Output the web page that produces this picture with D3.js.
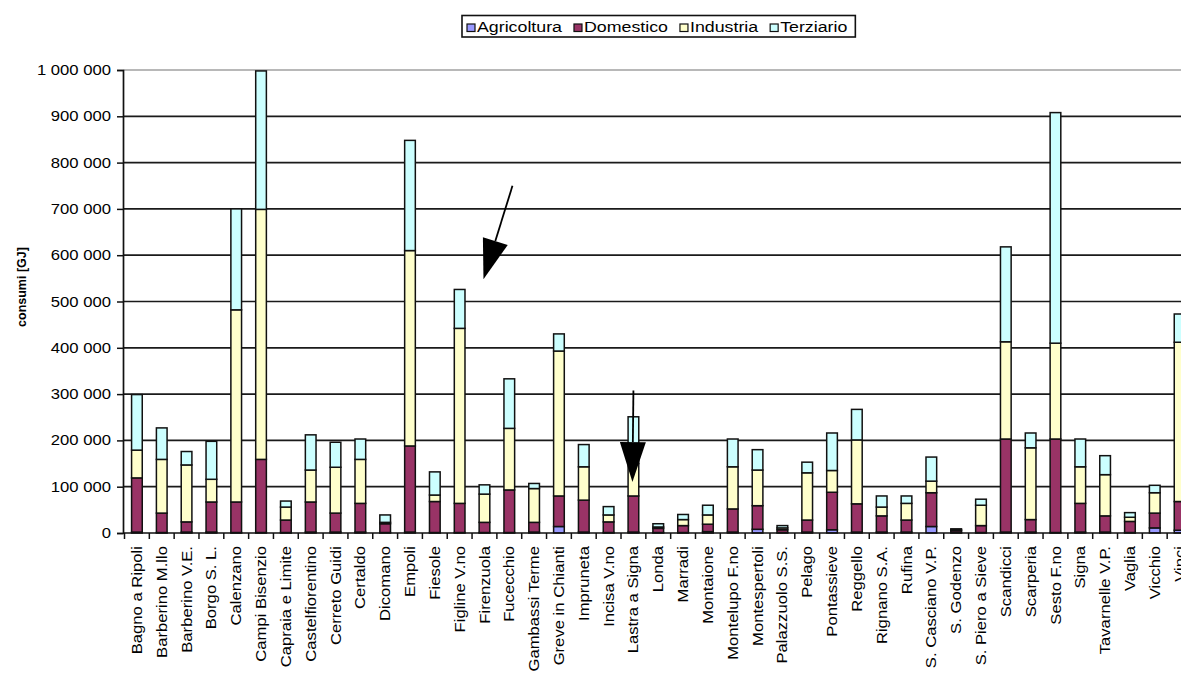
<!DOCTYPE html>
<html>
<head>
<meta charset="utf-8">
<script src="https://cdn.jsdelivr.net/npm/d3@7/dist/d3.min.js"></script>
<style>
  html, body { margin: 0; padding: 0; background: #fff; }
  svg { display: block; font-family: "Liberation Sans", Arial, sans-serif; }
</style>
</head>
<body>
<svg id="chart" width="1181" height="675"></svg>
<script>
// Energy consumption by municipality and sector [GJ]
const categories = [
  "Bagno a Ripoli", "Barberino M.llo", "Barberino V.E.", "Borgo S. L.", "Calenzano",
  "Campi Bisenzio", "Capraia e Limite", "Castelfiorentino", "Cerreto Guidi", "Certaldo",
  "Dicomano", "Empoli", "Fiesole", "Figline V.no", "Firenzuola", "Fucecchio",
  "Gambassi Terme", "Greve in Chianti", "Impruneta", "Incisa V.no", "Lastra a Signa",
  "Londa", "Marradi", "Montaione", "Montelupo F.no", "Montespertoli", "Palazzuolo S.S.",
  "Pelago", "Pontassieve", "Reggello", "Rignano S.A.", "Rufina", "S. Casciano V.P.",
  "S. Godenzo", "S. Piero a Sieve", "Scandicci", "Scarperia", "Sesto F.no", "Signa",
  "Tavarnelle V.P.", "Vaglia", "Vicchio", "Vinci"
];

const agricoltura = [2000, 1000, 2000, 2000, 1000, 1000, 1000, 2000, 2000, 2000,
  1000, 2000, 1000, 1000, 1000, 1000, 2000, 14000, 2000, 1000, 2000,
  1000, 1000, 3000, 2000, 8000, 1000, 2000, 7000, 2000, 2000, 2000, 14000,
  1000, 1000, 2000, 2000, 1000, 2000, 2000, 1000, 11000, 6000];

const domestico = [117000, 42000, 22000, 65000, 66000, 158000, 27000, 65000, 41000, 62000,
  19000, 186000, 67000, 63000, 22000, 92000, 21000, 66000, 69000, 23000, 78000,
  9000, 15000, 16000, 50000, 51000, 6000, 26000, 81000, 61000, 35000, 26000, 73000,
  4000, 15000, 201000, 27000, 202000, 62000, 35000, 24000, 32000, 62000];

const industria = [60000, 116000, 123000, 49000, 415000, 540000, 28000, 69000, 99000, 95000,
  3000, 422000, 14000, 378000, 61000, 133000, 73000, 313000, 72000, 15000, 70000,
  3000, 13000, 20000, 91000, 77000, 4000, 102000, 47000, 138000, 19000, 36000, 25000,
  2000, 44000, 210000, 155000, 207000, 79000, 89000, 9000, 44000, 344000];

const terziario = [120000, 68000, 29000, 82000, 218000, 299000, 13000, 76000, 54000, 44000,
  16000, 238000, 50000, 84000, 20000, 107000, 11000, 37000, 48000, 18000, 101000,
  7000, 11000, 21000, 60000, 44000, 5000, 23000, 81000, 66000, 24000, 16000, 52000,
  2000, 13000, 205000, 32000, 498000, 60000, 41000, 10000, 16000, 61000];

const seriesNames = ["Agricoltura", "Domestico", "Industria", "Terziario"];
const seriesColors = ["#9999FF", "#993366", "#FFFFCC", "#CCFFFF"];

const yTicks = [0, 100000, 200000, 300000, 400000, 500000, 600000, 700000, 800000, 900000, 1000000];
const yTitle = "consumi [GJ]";

// Annotation arrows: pointing at a municipality, from a value down to a value
const arrowTargets = ["Firenzuola", "Lastra a Signa"];
const arrowFrom = [750000, 308000];
const arrowTo = [548000, 110000];
const arrowShift = [28, 0];

// ---- table built for d3.stack
const table = categories.map((c, i) => ({
  name: c,
  Agricoltura: agricoltura[i],
  Domestico: domestico[i],
  Industria: industria[i],
  Terziario: terziario[i]
}));

const svg = d3.select("#chart");
const W = 1181, H = 675;
svg.append("rect").attr("width", W).attr("height", H).attr("fill", "#fff");

const mLeft = 123, mRight = 1192, mTop = 70, mBottom = 533;
const FS = 14;          // label font size
const WIDE = 1.19;      // wide lettering along the text direction

const x = d3.scaleBand()
  .domain(categories)
  .range([124.5, mRight])
  .paddingInner(0.57)
  .paddingOuter(0.285);

const y = d3.scaleLinear().domain([0, 1000000]).range([mBottom, mTop]);

const fmt = v => d3.format(",")(v).replace(/,/g, " ");

// gridlines
svg.append("g").selectAll("line")
  .data(yTicks.filter(t => t > 0))
  .join("line")
  .attr("x1", mLeft).attr("x2", W)
  .attr("y1", d => y(d)).attr("y2", d => y(d))
  .attr("stroke", d => d === 1000000 ? "#a0a0a0" : "#1a1a1a")
  .attr("stroke-width", 1.7);

// stacked bars
const stack = d3.stack().keys(seriesNames);
const layers = stack(table);
const color = d3.scaleOrdinal().domain(seriesNames).range(seriesColors);

svg.append("g").selectAll("g")
  .data(layers)
  .join("g")
  .attr("fill", d => color(d.key))
  .selectAll("rect")
  .data(d => d)
  .join("rect")
  .attr("x", d => x(d.data.name))
  .attr("width", x.bandwidth())
  .attr("y", d => y(d[1]))
  .attr("height", d => y(d[0]) - y(d[1]))
  .attr("stroke", "#111")
  .attr("stroke-width", 1.5);

// y axis (line and ticks from d3.axisLeft, labels drawn wide)
const yAxis = d3.axisLeft(y).tickValues(yTicks).tickFormat("").tickSize(6);
const gy = svg.append("g").attr("transform", `translate(${mLeft},0)`).call(yAxis);
gy.select(".domain").attr("stroke", "#111").attr("stroke-width", 1.7);
gy.selectAll(".tick line").attr("stroke", "#111").attr("stroke-width", 1.5);
svg.append("g").selectAll("text")
  .data(yTicks)
  .join("text")
  .attr("transform", d => `translate(${mLeft - 12},${y(d)}) scale(${WIDE},1)`)
  .attr("text-anchor", "end")
  .attr("dy", "0.36em")
  .attr("font-size", FS)
  .attr("fill", "#000")
  .text(fmt);

// x axis: baseline with ticks between categories, rotated labels
const step = x.step();
const x0 = x(categories[0]) - step * x.paddingOuter();
const gx = svg.append("g");
gx.append("line")
  .attr("x1", mLeft).attr("x2", W)
  .attr("y1", mBottom).attr("y2", mBottom)
  .attr("stroke", "#111").attr("stroke-width", 1.7);
gx.selectAll("line.tk")
  .data(d3.range(categories.length + 1))
  .join("line")
  .attr("class", "tk")
  .attr("x1", i => x0 + i * step).attr("x2", i => x0 + i * step)
  .attr("y1", mBottom).attr("y2", mBottom + 6)
  .attr("stroke", "#111").attr("stroke-width", 1.5);
gx.selectAll("text")
  .data(categories)
  .join("text")
  .attr("transform", d => `translate(${x(d) + x.bandwidth() / 2},546) rotate(-90) scale(${WIDE},1)`)
  .attr("text-anchor", "end")
  .attr("dy", "0.36em")
  .attr("font-size", FS)
  .attr("fill", "#000")
  .text(d => d);

// y title
svg.append("text")
  .attr("transform", "translate(22,287) rotate(-90)")
  .attr("text-anchor", "middle")
  .attr("dy", "0.35em")
  .attr("font-size", 12.5)
  .attr("font-weight", "bold")
  .text(yTitle);

// legend
const LW = 1.27;
const lg = svg.append("g");
const lgBox = lg.append("rect")
  .attr("y", 15.5).attr("height", 21.5)
  .attr("fill", "#fff").attr("stroke", "#111").attr("stroke-width", 1.6);
let lx = 467;
seriesNames.forEach((name, i) => {
  lg.append("rect")
    .attr("x", lx).attr("y", 24).attr("width", 8).attr("height", 7.5)
    .attr("fill", seriesColors[i]).attr("stroke", "#111").attr("stroke-width", 1.2);
  const t = lg.append("text")
    .attr("transform", `translate(${lx + 10},27) scale(${LW},1)`)
    .attr("dy", "0.36em")
    .attr("font-size", FS).attr("fill", "#000")
    .text(name);
  lx = lx + 10 + t.node().getComputedTextLength() * LW + 12;
});
lgBox.attr("x", 462).attr("width", lx - 4 - 462);

// annotation arrows
const ag = svg.append("g");
arrowTargets.forEach((name, i) => {
  const tx = x(name) + x.bandwidth() / 2;
  const tipX = tx - 1, tipY = y(arrowTo[i]);
  const tailX = tx + arrowShift[i], tailY = y(arrowFrom[i]);
  const ang = Math.atan2(tipY - tailY, tipX - tailX);
  const len = 40, half = 13;
  const bx = tipX - len * Math.cos(ang), by = tipY - len * Math.sin(ang);
  const px = -Math.sin(ang) * half, py = Math.cos(ang) * half;
  ag.append("line")
    .attr("x1", tailX).attr("y1", tailY).attr("x2", bx).attr("y2", by)
    .attr("stroke", "#000").attr("stroke-width", 1.8);
  ag.append("path")
    .attr("d", `M${tipX},${tipY}L${bx + px},${by + py}L${bx - px},${by - py}Z`)
    .attr("fill", "#000");
});
</script>
</body>
</html>
